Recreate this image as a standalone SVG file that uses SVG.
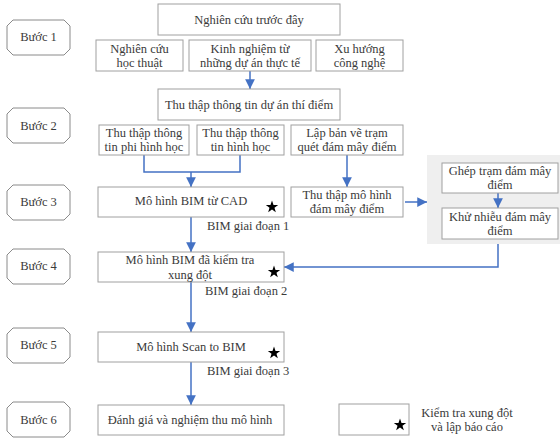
<svg xmlns="http://www.w3.org/2000/svg" xmlns:xlink="http://www.w3.org/1999/xlink" width="560" height="441" viewBox="0 0 560 441">
<style>
.box{fill:#fff;stroke:#a0a0a0;stroke-width:1}
.step{fill:#fff;stroke:#8a8a8a;stroke-width:1}
.t{font-family:"Liberation Serif","Times New Roman",serif;font-size:12.5px;fill:#3a3a3a;text-anchor:middle}
.l{font-family:"Liberation Serif","Times New Roman",serif;font-size:12.5px;fill:#3a3a3a}
.c{fill:none;stroke:#4472C4;stroke-width:1.5}
.a{fill:none;stroke:#4472C4;stroke-width:1.5;marker-end:url(#ah)}
</style>
<defs>
<marker id="ah" viewBox="0 0 10 10" refX="10" refY="5" markerWidth="6.5" markerHeight="6.5" orient="auto" markerUnits="strokeWidth">
<path d="M0,0 L10,5 L0,10 Z" fill="#4472C4"/>
</marker>
<path id="star" d="M0,-6.5 L1.53,-2.1 L6.18,-2.01 L2.47,0.8 L3.82,5.26 L0,2.6 L-3.82,5.26 L-2.47,0.8 L-6.18,-2.01 L-1.53,-2.1 Z" fill="#000"/>
<path id="oct" d="M6,0 H57 L63,6 V29 L57,35 H6 L0,29 V6 Z"/>
</defs>
<rect x="427" y="155" width="133" height="89" fill="#efefef"/>
<g id="steps">
<g id="s1"><use xlink:href="#oct" class="step" transform="translate(7,20)"/><text class="t" x="38.5" y="41">Bước 1</text></g>
<g id="s2"><use xlink:href="#oct" class="step" transform="translate(7,108)"/><text class="t" x="38.5" y="130">Bước 2</text></g>
<g id="s3"><use xlink:href="#oct" class="step" transform="translate(7,185)"/><text class="t" x="38.5" y="206">Bước 3</text></g>
<g id="s4"><use xlink:href="#oct" class="step" transform="translate(7,249)"/><text class="t" x="38.5" y="270">Bước 4</text></g>
<g id="s5"><use xlink:href="#oct" class="step" transform="translate(7,328)"/><text class="t" x="38.5" y="349">Bước 5</text></g>
<g id="s6"><use xlink:href="#oct" class="step" transform="translate(7,402)"/><text class="t" x="38.5" y="424">Bước 6</text></g>
</g>
<g id="connectors">
<path class="a" d="M250,71 V89"/>
<path class="c" d="M144,155 V172 H240 V155"/>
<path class="a" d="M191,172 V187"/>
<path class="a" d="M191,217 V252"/>
<path class="a" d="M191,282 V332"/>
<path class="a" d="M191,362 V405"/>
<path class="a" d="M347,155 V187"/>
<path class="a" d="M405,202 H427"/>
<path class="a" d="M498,193 V208"/>
<path class="a" d="M498,244 V267 H284"/>
</g>
<g id="n1"><rect class="box" x="158" y="4" width="182" height="31"/><text class="t" x="249" y="24">Nghiên cứu trước đây</text></g>
<g id="n1a"><rect class="box" x="96" y="40" width="87" height="31"/><text class="t" x="139.5" y="53">Nghiên cứu</text><text class="t" x="139.5" y="67">học thuật</text></g>
<g id="n1b"><rect class="box" x="189" y="40" width="122" height="31"/><text class="t" x="250" y="53">Kinh nghiệm từ</text><text class="t" x="250" y="67">những dự án thực tế</text></g>
<g id="n1c"><rect class="box" x="316" y="40" width="87" height="31"/><text class="t" x="359.5" y="53">Xu hướng</text><text class="t" x="359.5" y="67">công nghệ</text></g>
<g id="n2"><rect class="box" x="158" y="89" width="182" height="31"/><text class="t" x="249" y="109">Thu thập thông tin dự án thí điểm</text></g>
<g id="n2a"><rect class="box" x="99" y="125" width="90" height="30"/><text class="t" x="144" y="137">Thu thập thông</text><text class="t" x="144" y="151">tin phi hình học</text></g>
<g id="n2b"><rect class="box" x="197" y="125" width="87" height="30"/><text class="t" x="240.5" y="137">Thu thập thông</text><text class="t" x="240.5" y="151">tin hình học</text></g>
<g id="n2c"><rect class="box" x="291" y="125" width="112" height="30"/><text class="t" x="347" y="137">Lập bản vẽ trạm</text><text class="t" x="347" y="151">quét đám mây điểm</text></g>
<g id="n3"><rect class="box" x="98" y="187" width="186" height="30"/><text class="t" x="191" y="205">Mô hình BIM từ CAD</text><use xlink:href="#star" x="272" y="207"/></g>
<text class="l" x="207" y="230">BIM giai đoạn 1</text>
<g id="n3b"><rect class="box" x="291" y="187" width="112" height="30"/><text class="t" x="347" y="199">Thu thập mô hình</text><text class="t" x="347" y="213">đám mây điểm</text></g>
<g id="n3c"><rect class="box" x="442" y="163" width="116" height="30"/><text class="t" x="500" y="175">Ghép trạm đám mây</text><text class="t" x="500" y="189">điểm</text></g>
<g id="n3d"><rect class="box" x="442" y="208" width="116" height="31"/><text class="t" x="500" y="221">Khử nhiễu đám mây</text><text class="t" x="500" y="235">điểm</text></g>
<g id="n4"><rect class="box" x="98" y="252" width="186" height="30"/><text class="t" x="190" y="264">Mô hình BIM đã kiểm tra</text><text class="t" x="190" y="279">xung đột</text><use xlink:href="#star" x="274" y="272"/></g>
<text class="l" x="205" y="295">BIM giai đoạn 2</text>
<g id="n5"><rect class="box" x="98" y="332" width="186" height="30"/><text class="t" x="191" y="351">Mô hình Scan to BIM</text><use xlink:href="#star" x="274" y="353"/></g>
<text class="l" x="207" y="375">BIM giai đoạn 3</text>
<g id="n6"><rect class="box" x="98" y="405" width="186" height="30"/><text class="t" x="190" y="424">Đánh giá và nghiệm thu mô hình</text></g>
<g id="legend"><rect class="box" x="339" y="404" width="70" height="31"/><use xlink:href="#star" x="400" y="425"/><text class="t" x="467" y="417">Kiểm tra xung đột</text><text class="t" x="467" y="431">và lập báo cáo</text></g>
</svg>
